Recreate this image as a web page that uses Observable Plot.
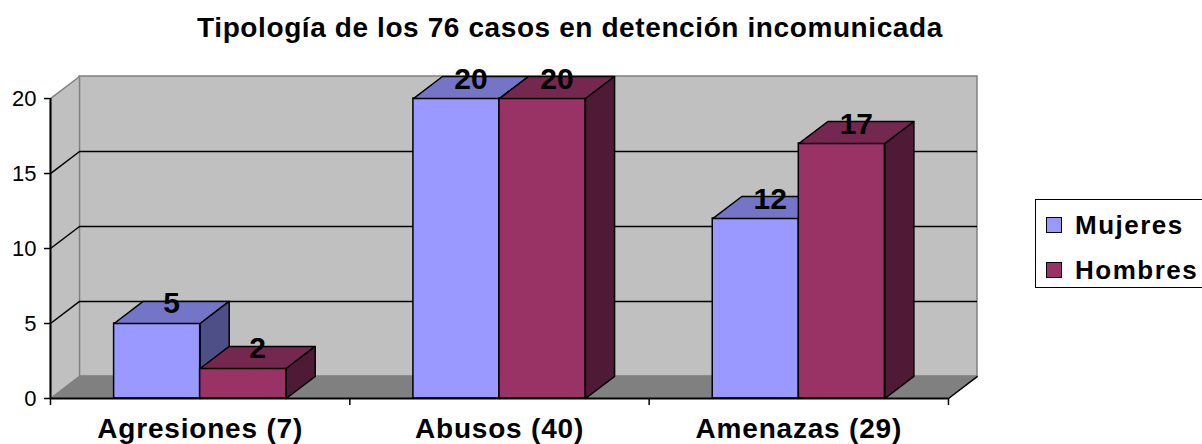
<!DOCTYPE html>
<html>
<head>
<meta charset="utf-8">
<script src="https://cdn.jsdelivr.net/npm/d3@7"></script>
<script src="https://cdn.jsdelivr.net/npm/@observablehq/plot@0.6"></script>
<style>
  html, body { margin: 0; padding: 0; background: #fff; }
  #wrap { position: relative; width: 1202px; height: 444px; overflow: hidden; font-family: "Liberation Sans", Arial, sans-serif; }
  #title { position: absolute; left: 0; width: 1140px; top: 14px; text-align: center; font-weight: bold; font-size: 28px; line-height: 28px; letter-spacing: 0.6px; color: #000; }
  #chart { position: absolute; left: 0; top: 0; }
  #legend { position: absolute; left: 1035px; top: 199px; width: 180px; height: 89px; border: 1.5px solid #000; box-sizing: border-box; background: #fff; }
  .item { position: absolute; left: 10px; font-weight: bold; font-size: 26px; letter-spacing: 1.5px; line-height: 26px; color: #000; white-space: nowrap; }
  .sw { display: inline-block; width: 16px; height: 16px; border: 1.5px solid #000; box-sizing: border-box; margin-right: 13px; vertical-align: 1px; }
</style>
</head>
<body>
<div id="wrap">
  <div id="chart"></div>
  <div id="title">Tipología de los 76 casos en detención incomunicada</div>
  <div id="legend"></div>
</div>
<script>
const categories = ["Agresiones (7)", "Abusos (40)", "Amenazas (29)"];
const seriesNames = ["Mujeres", "Hombres"];
const mujeres = [5, 20, 12];
const hombres = [2, 20, 17];
const yTicks = [0, 5, 10, 15, 20];
const gridValues = [5, 10, 15];

const front = ["#9999FF", "#993366"];
const topC = ["#7575C8", "#742850"];
const sideC = ["#4F4F88", "#4F1A35"];

// 3D depth in data units
const dX = 0.097, dY = 1.47, barW = 0.2875;
const yMax = 20;
const nCat = categories.length;

const values = [mujeres, hombres];
const bars = [];
categories.forEach((c, i) => {
  values.forEach((arr, s) => {
    const x1 = s === 0 ? i + 0.5 - barW : i + 0.5;
    bars.push({cat: c, i, s, v: arr[i], x1, x2: x1 + barW});
  });
});

const poly = (pts, id) => pts.concat([pts[0]]).map(([x, y]) => ({x, y, id}));
const topFaces = s => bars.filter(b => b.s === s).flatMap(b =>
  poly([[b.x1, b.v], [b.x2, b.v], [b.x2 + dX, b.v + dY], [b.x1 + dX, b.v + dY]], b.cat + "t"));
const sideFaces = s => bars.filter(b => b.s === s).flatMap(b =>
  poly([[b.x2, 0], [b.x2 + dX, dY], [b.x2 + dX, b.v + dY], [b.x2, b.v]], b.cat + "s"));

const sideWall = poly([[0, 0], [dX, dY], [dX, yMax + dY], [0, yMax]], "wall");
const floor = poly([[0, 0], [nCat, 0], [nCat + dX, dY], [dX, dY]], "floor");

const barMarks = [];
[0, 1].forEach(s => {
  barMarks.push(Plot.rect(bars.filter(b => b.s === s), {x1: "x1", x2: "x2", y1: 0, y2: "v", fill: front[s], stroke: "#000", strokeWidth: 1.5}));
  barMarks.push(Plot.line(topFaces(s), {x: "x", y: "y", z: "id", fill: topC[s], stroke: "#000", strokeWidth: 1.5}));
  barMarks.push(Plot.line(sideFaces(s), {x: "x", y: "y", z: "id", fill: sideC[s], stroke: "#000", strokeWidth: 1.5}));
});

const chart = Plot.plot({
  width: 1202,
  height: 444,
  marginLeft: 50,
  marginRight: 225,
  marginTop: 76,
  marginBottom: 46,
  style: {fontFamily: "'Liberation Sans', Arial, sans-serif", fontSize: "22px", color: "#000", background: "transparent"},
  x: {type: "linear", domain: [0, nCat + dX]},
  y: {type: "linear", domain: [0, yMax + dY]},
  marks: [
    // back wall
    Plot.rect([0], {x1: dX, x2: nCat + dX, y1: dY, y2: yMax + dY, fill: "#C0C0C0", stroke: "#808080", strokeWidth: 1.5}),
    // left side wall
    Plot.line(sideWall, {x: "x", y: "y", z: "id", fill: "#C0C0C0", stroke: "#808080", strokeWidth: 1.5}),
    // floor
    Plot.line(floor, {x: "x", y: "y", z: "id", fill: "#808080", stroke: "#808080", strokeWidth: 1}),
    Plot.link([0], {x1: nCat, y1: 0, x2: nCat + dX, y2: dY, stroke: "#000", strokeWidth: 1.5}),
    // gridlines
    Plot.ruleY(gridValues, {y: d => d + dY, x1: dX, x2: nCat + dX, stroke: "#000", strokeWidth: 1.5}),
    Plot.link(gridValues, {x1: 0, y1: d => d, x2: dX, y2: d => d + dY, stroke: "#000", strokeWidth: 1.5}),
    // axes lines
    Plot.ruleX([0], {y1: 0, y2: yMax, stroke: "#000", strokeWidth: 2}),
    ...barMarks,
    Plot.ruleY([0], {x1: 0, x2: nCat, stroke: "#000", strokeWidth: 2}),
    Plot.axisY(yTicks, {tickSize: 6, tickPadding: 8, fontSize: 22, strokeWidth: 1.5}),
    Plot.axisX(d3.range(nCat + 1), {tickSize: 7, text: null, strokeWidth: 1.5}),
    Plot.axisX(categories.map((c, i) => i + 0.5), {tickSize: 0, tickPadding: 20, fontSize: 28, fontWeight: "bold", tickFormat: d => categories[Math.floor(d)]}),
    // value labels
    Plot.text(bars, {x: d => (d.x1 + d.x2) / 2 + dX / 2, y: d => d.v + dY / 2, text: d => String(d.v), lineAnchor: "bottom", dy: 1, fontSize: 30, fontWeight: "bold", fill: "#000"})
  ]
});
document.getElementById("chart").appendChild(chart);
d3.select(chart).selectAll('g[aria-label="x-axis tick label"] text').style("letter-spacing", "0.8px");

const legend = document.getElementById("legend");
seriesNames.forEach((name, s) => {
  const it = document.createElement("div");
  it.className = "item";
  it.style.top = (s === 0 ? 12 : 57) + "px";
  const sw = document.createElement("span");
  sw.className = "sw";
  sw.style.background = front[s];
  it.appendChild(sw);
  it.appendChild(document.createTextNode(name));
  legend.appendChild(it);
});
</script>
</body>
</html>
